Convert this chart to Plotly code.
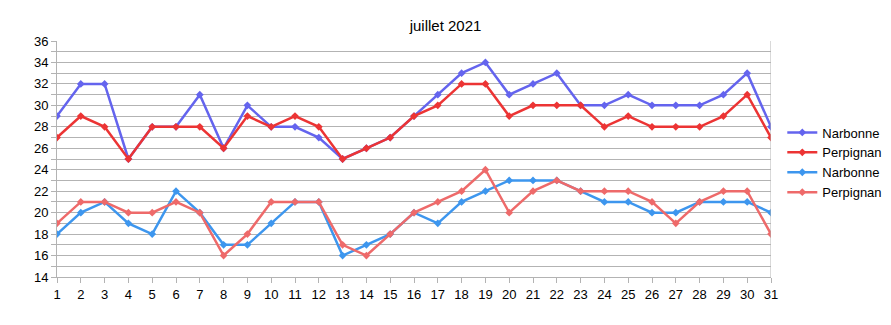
import plotly.graph_objects as go

days = list(range(1, 32))
narbonne_max = [29,32,32,25,28,28,31,26,30,28,28,27,25,26,27,29,31,33,34,31,32,33,30,30,31,30,30,30,31,33,28]
perpignan_max = [27,29,28,25,28,28,28,26,29,28,29,28,25,26,27,29,30,32,32,29,30,30,30,28,29,28,28,28,29,31,27]
narbonne_min = [18,20,21,19,18,22,20,17,17,19,21,21,16,17,18,20,19,21,22,23,23,23,22,21,21,20,20,21,21,21,20]
perpignan_min = [19,21,21,20,20,21,20,16,18,21,21,21,17,16,18,20,21,22,24,20,22,23,22,22,22,21,19,21,22,22,18]

series = [
    ("Narbonne", narbonne_max, "#6464ee"),
    ("Perpignan", perpignan_max, "#ec3434"),
    ("Narbonne", narbonne_min, "#3d96ee"),
    ("Perpignan", perpignan_min, "#ee6a6a"),
]

fig = go.Figure()
for name, vals, col in series:
    fig.add_trace(go.Scatter(
        x=days, y=vals, name=name, mode="lines+markers",
        line=dict(color=col, width=2.5),
        marker=dict(symbol="diamond", size=6, color=col),
    ))

fig.update_layout(
    width=891, height=325,
    margin=dict(l=57, r=120, t=41, b=48, autoexpand=False),
    paper_bgcolor="white", plot_bgcolor="white",
    font=dict(family="Liberation Sans, Arial, sans-serif", size=13, color="black"),
    title=dict(text="juillet 2021", x=0.5, xanchor="center", y=0.92, yanchor="middle",
               font=dict(size=15, color="black")),
    showlegend=True,
    legend=dict(xref="container", yref="container", x=0.878, xanchor="left",
                y=0.5, yanchor="middle",
                font=dict(size=13), tracegroupgap=0, itemwidth=30,
                bgcolor="rgba(0,0,0,0)"),
    xaxis=dict(range=[1, 31], tickmode="linear", tick0=1, dtick=1,
               showgrid=False, showline=True, linecolor="#b3b3b3", linewidth=1,
               mirror=False, ticks="outside", ticklen=5, tickcolor="#b3b3b3",
               tickfont=dict(size=13),
               zeroline=False, fixedrange=True),
    yaxis=dict(range=[14, 36], tickmode="linear", tick0=14, dtick=2,
               showgrid=True, gridcolor="#b3b3b3", gridwidth=1,
               showline=True, linecolor="#b3b3b3", linewidth=1,
               ticks="outside", ticklen=5, tickcolor="#b3b3b3",
               tickfont=dict(size=13),
               minor=dict(dtick=1, tick0=14, showgrid=True, gridcolor="#b3b3b3",
                          ticks="outside", ticklen=5, tickcolor="#b3b3b3"),
               zeroline=False, fixedrange=True),
)
fig.add_shape(type="line", xref="x", yref="paper", x0=31, x1=31, y0=0, y1=1,
              line=dict(color="#b3b3b3", width=1))

fig.write_html("out.html")
